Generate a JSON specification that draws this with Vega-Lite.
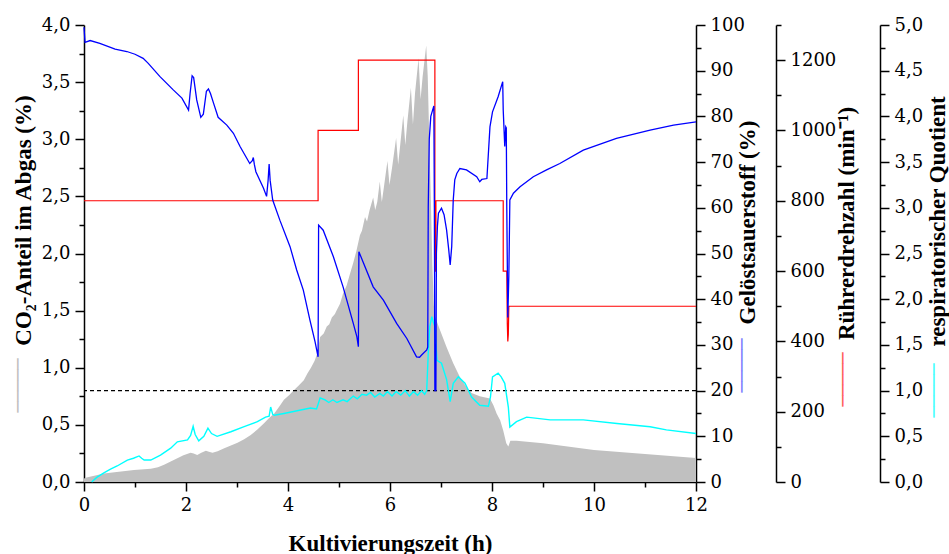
{
 "$schema": "https://vega.github.io/schema/vega-lite/v6.json",
 "width": 612, "height": 457,
 "autosize": {"type": "none"},
 "padding": {"left": 84, "top": 25, "right": 253, "bottom": 72},
 "background": "white",
 "config": {
  "view": {"stroke": null},
  "font": "Liberation Serif",
  "axis": {"labelFont": "DejaVu Serif", "labelFontSize": 18, "labelColor": "black", "titleFont": "Liberation Serif", "titleFontSize": 23, "titleFontWeight": "bold", "titleColor": "black", "domainColor": "black", "domainWidth": 1.5, "tickColor": "black", "tickWidth": 1.5, "grid": false, "labelOverlap": false, "labelFlush": false, "labelBound": false, "labelPadding": 5}
 },
 "datasets": {
  "co2": [
   {"t":0,"co2":0.03},{"t":0.05,"co2":0.04},{"t":0.2,"co2":0.055},{"t":0.39,"co2":0.075},{"t":0.6,"co2":0.085},{"t":0.98,"co2":0.105},{"t":1.31,"co2":0.117},{"t":1.45,"co2":0.13},{"t":1.57,"co2":0.15},{"t":1.7,"co2":0.18},{"t":1.83,"co2":0.207},{"t":1.95,"co2":0.235},{"t":2.09,"co2":0.257},{"t":2.15,"co2":0.25},{"t":2.22,"co2":0.236},{"t":2.3,"co2":0.255},{"t":2.39,"co2":0.274},{"t":2.45,"co2":0.265},{"t":2.52,"co2":0.257},{"t":2.62,"co2":0.27},{"t":2.75,"co2":0.295},{"t":2.88,"co2":0.32},{"t":3.01,"co2":0.344},{"t":3.14,"co2":0.375},{"t":3.27,"co2":0.411},{"t":3.4,"co2":0.46},{"t":3.53,"co2":0.514},{"t":3.63,"co2":0.56},{"t":3.73,"co2":0.6},{"t":3.83,"co2":0.66},{"t":3.92,"co2":0.72},{"t":4.02,"co2":0.76},{"t":4.12,"co2":0.805},{"t":4.22,"co2":0.85},{"t":4.31,"co2":0.89},{"t":4.38,"co2":0.95},{"t":4.45,"co2":1.0},{"t":4.52,"co2":1.06},{"t":4.57,"co2":1.12},{"t":4.63,"co2":1.27},{"t":4.7,"co2":1.3},{"t":4.76,"co2":1.36},{"t":4.81,"co2":1.38},{"t":4.86,"co2":1.44},{"t":4.92,"co2":1.47},{"t":4.95,"co2":1.5},{"t":5.02,"co2":1.56},{"t":5.08,"co2":1.65},{"t":5.15,"co2":1.72},{"t":5.22,"co2":1.83},{"t":5.28,"co2":1.92},{"t":5.34,"co2":2.02},{"t":5.41,"co2":2.16},{"t":5.45,"co2":2.2},{"t":5.51,"co2":2.32},{"t":5.55,"co2":2.28},{"t":5.6,"co2":2.38},{"t":5.67,"co2":2.49},{"t":5.71,"co2":2.38},{"t":5.75,"co2":2.45},{"t":5.8,"co2":2.63},{"t":5.84,"co2":2.45},{"t":5.88,"co2":2.58},{"t":5.95,"co2":2.81},{"t":5.99,"co2":2.6},{"t":6.04,"co2":2.75},{"t":6.12,"co2":3.01},{"t":6.16,"co2":2.78},{"t":6.2,"co2":2.95},{"t":6.26,"co2":3.21},{"t":6.3,"co2":2.95},{"t":6.34,"co2":3.15},{"t":6.41,"co2":3.45},{"t":6.45,"co2":3.13},{"t":6.49,"co2":3.4},{"t":6.56,"co2":3.71},{"t":6.6,"co2":3.35},{"t":6.64,"co2":3.55},{"t":6.71,"co2":3.82},{"t":6.74,"co2":3.55},{"t":6.77,"co2":3.0},{"t":6.8,"co2":2.5},{"t":6.83,"co2":1.9},{"t":6.86,"co2":1.55},{"t":6.88,"co2":1.45},{"t":6.98,"co2":1.33},{"t":7.11,"co2":1.18},{"t":7.24,"co2":1.04},{"t":7.37,"co2":0.92},{"t":7.5,"co2":0.83},{"t":7.6,"co2":0.78},{"t":7.76,"co2":0.75},{"t":7.96,"co2":0.73},{"t":8.03,"co2":0.67},{"t":8.09,"co2":0.6},{"t":8.16,"co2":0.54},{"t":8.22,"co2":0.45},{"t":8.28,"co2":0.34},{"t":8.32,"co2":0.31},{"t":8.36,"co2":0.36},{"t":8.48,"co2":0.36},{"t":9.0,"co2":0.34},{"t":10.0,"co2":0.28},{"t":11.0,"co2":0.245},{"t":12.0,"co2":0.21}
  ],
  "do": [
   {"t":0,"do":99.5},{"t":0.02,"do":96.2},{"t":0.12,"do":96.6},{"t":0.31,"do":96.0},{"t":0.61,"do":94.7},{"t":0.84,"do":94.2},{"t":1.0,"do":93.6},{"t":1.16,"do":92.7},{"t":1.26,"do":91.6},{"t":1.49,"do":88.7},{"t":1.75,"do":85.8},{"t":1.92,"do":84.0},{"t":2.05,"do":81.4},{"t":2.08,"do":85},{"t":2.12,"do":88.9},{"t":2.15,"do":88.5},{"t":2.21,"do":83.6},{"t":2.29,"do":79.8},{"t":2.34,"do":80.5},{"t":2.4,"do":85.5},{"t":2.44,"do":86.0},{"t":2.48,"do":85},{"t":2.54,"do":82.9},{"t":2.63,"do":79.8},{"t":2.8,"do":78.1},{"t":2.93,"do":76.3},{"t":3.06,"do":73.4},{"t":3.25,"do":69.7},{"t":3.3,"do":70.3},{"t":3.32,"do":71.0},{"t":3.34,"do":69.5},{"t":3.37,"do":67.9},{"t":3.52,"do":64.3},{"t":3.58,"do":62.5},{"t":3.61,"do":66},{"t":3.63,"do":69.6},{"t":3.65,"do":66},{"t":3.7,"do":61.7},{"t":3.84,"do":57.3},{"t":4.04,"do":51.5},{"t":4.17,"do":46.4},{"t":4.3,"do":42.0},{"t":4.43,"do":35.4},{"t":4.53,"do":30.7},{"t":4.59,"do":27.4},{"t":4.6,"do":56.2},{"t":4.69,"do":55.1},{"t":4.89,"do":49.3},{"t":5.08,"do":42.7},{"t":5.28,"do":34.7},{"t":5.35,"do":31.8},{"t":5.38,"do":29.6},{"t":5.39,"do":50.4},{"t":5.48,"do":47.9},{"t":5.67,"do":42.7},{"t":5.87,"do":39.8},{"t":6.13,"do":34.7},{"t":6.33,"do":31.4},{"t":6.52,"do":27.4},{"t":6.58,"do":27.3},{"t":6.62,"do":27.8},{"t":6.72,"do":28.9},{"t":6.74,"do":29.5},{"t":6.75,"do":60},{"t":6.77,"do":75},{"t":6.8,"do":80},{"t":6.86,"do":82.3},{"t":6.87,"do":60},{"t":6.88,"do":20.0},{"t":6.9,"do":20.0},{"t":6.91,"do":50},{"t":6.93,"do":56},{"t":6.95,"do":58.8},{"t":7.01,"do":59.9},{"t":7.06,"do":58.5},{"t":7.11,"do":55.1},{"t":7.15,"do":51},{"t":7.18,"do":47.5},{"t":7.21,"do":51.5},{"t":7.24,"do":61.7},{"t":7.27,"do":66.1},{"t":7.31,"do":67.5},{"t":7.37,"do":68.6},{"t":7.5,"do":68.3},{"t":7.7,"do":66.8},{"t":7.76,"do":65.7},{"t":7.8,"do":66.2},{"t":7.9,"do":66.4},{"t":7.96,"do":77.7},{"t":8.01,"do":81.0},{"t":8.12,"do":84.3},{"t":8.21,"do":87.6},{"t":8.22,"do":81.4},{"t":8.25,"do":73.4},{"t":8.27,"do":77.7},{"t":8.28,"do":77.5},{"t":8.29,"do":60},{"t":8.31,"do":36},{"t":8.33,"do":45},{"t":8.35,"do":61.7},{"t":8.42,"do":63.2},{"t":8.55,"do":64.6},{"t":8.81,"do":66.8},{"t":9.07,"do":68.3},{"t":9.33,"do":69.7},{"t":9.79,"do":72.6},{"t":10.44,"do":75.2},{"t":11.1,"do":77.0},{"t":11.56,"do":78.1},{"t":12.0,"do":78.8}
  ],
  "rpm": [
   {"t":0,"rpm":800},{"t":4.59,"rpm":800},{"t":4.59,"rpm":1000},{"t":5.38,"rpm":1000},{"t":5.38,"rpm":1200},{"t":6.88,"rpm":1200},{"t":6.88,"rpm":600},{"t":6.9,"rpm":600},{"t":6.9,"rpm":800},{"t":8.22,"rpm":800},{"t":8.22,"rpm":600},{"t":8.29,"rpm":600},{"t":8.3,"rpm":450},{"t":8.31,"rpm":400},{"t":8.32,"rpm":420},{"t":8.33,"rpm":500},{"t":12,"rpm":500}
  ],
  "rq": [
   {"t":0.15,"rq":0.0},{"t":0.25,"rq":0.05},{"t":0.39,"rq":0.1},{"t":0.52,"rq":0.14},{"t":0.65,"rq":0.175},{"t":0.85,"rq":0.24},{"t":0.97,"rq":0.26},{"t":1.08,"rq":0.285},{"t":1.13,"rq":0.26},{"t":1.18,"rq":0.24},{"t":1.31,"rq":0.24},{"t":1.5,"rq":0.295},{"t":1.7,"rq":0.37},{"t":1.83,"rq":0.44},{"t":2.03,"rq":0.46},{"t":2.09,"rq":0.51},{"t":2.14,"rq":0.61},{"t":2.18,"rq":0.52},{"t":2.25,"rq":0.45},{"t":2.35,"rq":0.5},{"t":2.43,"rq":0.59},{"t":2.5,"rq":0.53},{"t":2.61,"rq":0.5},{"t":2.88,"rq":0.55},{"t":3.14,"rq":0.605},{"t":3.4,"rq":0.66},{"t":3.56,"rq":0.71},{"t":3.63,"rq":0.72},{"t":3.66,"rq":0.82},{"t":3.7,"rq":0.74},{"t":3.73,"rq":0.73},{"t":3.92,"rq":0.75},{"t":4.18,"rq":0.78},{"t":4.44,"rq":0.81},{"t":4.56,"rq":0.8},{"t":4.63,"rq":0.92},{"t":4.72,"rq":0.9},{"t":4.8,"rq":0.87},{"t":4.88,"rq":0.9},{"t":4.96,"rq":0.87},{"t":5.08,"rq":0.9},{"t":5.16,"rq":0.88},{"t":5.28,"rq":0.94},{"t":5.36,"rq":0.91},{"t":5.45,"rq":0.96},{"t":5.54,"rq":0.95},{"t":5.62,"rq":0.98},{"t":5.7,"rq":0.93},{"t":5.8,"rq":0.97},{"t":5.87,"rq":0.94},{"t":5.95,"rq":0.99},{"t":6.04,"rq":0.94},{"t":6.12,"rq":0.99},{"t":6.21,"rq":0.95},{"t":6.3,"rq":1.0},{"t":6.38,"rq":0.94},{"t":6.46,"rq":0.99},{"t":6.54,"rq":0.95},{"t":6.62,"rq":1.0},{"t":6.68,"rq":0.96},{"t":6.72,"rq":1.0},{"t":6.75,"rq":1.41},{"t":6.78,"rq":1.7},{"t":6.82,"rq":1.81},{"t":6.85,"rq":1.75},{"t":6.88,"rq":1.7},{"t":6.92,"rq":1.33},{"t":7.01,"rq":1.3},{"t":7.11,"rq":1.12},{"t":7.18,"rq":0.88},{"t":7.24,"rq":1.08},{"t":7.34,"rq":1.15},{"t":7.47,"rq":1.08},{"t":7.6,"rq":0.93},{"t":7.76,"rq":0.84},{"t":7.93,"rq":0.83},{"t":7.97,"rq":0.93},{"t":8.01,"rq":1.15},{"t":8.12,"rq":1.19},{"t":8.18,"rq":1.15},{"t":8.25,"rq":1.08},{"t":8.32,"rq":0.82},{"t":8.35,"rq":0.6},{"t":8.48,"rq":0.66},{"t":8.68,"rq":0.71},{"t":9.14,"rq":0.68},{"t":9.79,"rq":0.68},{"t":10.45,"rq":0.64},{"t":11.1,"rq":0.605},{"t":11.42,"rq":0.57},{"t":12.0,"rq":0.53}
  ],
  "ref": [{"rq": 1.0}]
 },
 "layer": [
  {
   "data": {"name": "co2"},
   "mark": {"type": "area", "color": "#c0c0c0", "interpolate": "linear"},
   "encoding": {
    "x": {"field": "t", "type": "quantitative", "scale": {"domain": [0, 12], "nice": false},
     "axis": {"values": [0,1,2,3,4,5,6,7,8,9,10,11,12], "labelExpr": "datum.value % 2 == 0 ? format(datum.value, 'd') : ''",
      "tickSize": {"condition": {"test": "datum.value % 2 == 0", "value": 9}, "value": 5},
      "title": "Kultivierungszeit (h)", "titleY": 61, "titleBaseline": "middle"}},
    "y": {"field": "co2", "type": "quantitative", "scale": {"domain": [0, 4], "nice": false},
     "axis": {"orient": "left", "values": [0,0.25,0.5,0.75,1,1.25,1.5,1.75,2,2.25,2.5,2.75,3,3.25,3.5,3.75,4],
      "labelExpr": "abs(datum.value*2 - round(datum.value*2)) < 0.001 ? replace(format(datum.value, '.1f'), '.', ',') : ''",
      "tickSize": {"condition": {"test": "abs(datum.value*2 - round(datum.value*2)) < 0.001", "value": 9}, "value": 5},
      "title": "CO₂-Anteil im Abgas (%)", "titleX": -61, "titleY": 195, "titleAngle": 270, "titleAlign": "center", "titleBaseline": "middle"}}
   }
  },
  {
   "data": {"name": "ref"},
   "mark": {"type": "rule", "color": "black", "strokeDash": [4, 3], "strokeWidth": 1.2},
   "encoding": {
    "y": {"field": "rq", "type": "quantitative", "scale": {"domain": [0, 5], "nice": false},
     "axis": {"orient": "left", "domain": false, "ticks": false, "labels": false, "title": "─────", "titleFont": "DejaVu Sans Mono", "titleFontWeight": "normal", "titleFontSize": 18, "titleColor": "#c0c0c0", "titleX": -66, "titleY": 360, "titleAngle": 270, "titleAlign": "center", "titleBaseline": "middle"}}
   }
  },
  {
   "data": {"name": "rq"},
   "mark": {"type": "line", "color": "#00ffff", "strokeWidth": 1.4},
   "encoding": {
    "x": {"field": "t", "type": "quantitative", "scale": {"domain": [0, 12], "nice": false}},
    "y": {"field": "rq", "type": "quantitative", "scale": {"domain": [0, 5], "nice": false},
     "axis": {"orient": "right", "offset": 184, "values": [0,0.25,0.5,0.75,1,1.25,1.5,1.75,2,2.25,2.5,2.75,3,3.25,3.5,3.75,4,4.25,4.5,4.75,5],
      "labelExpr": "abs(datum.value*2 - round(datum.value*2)) < 0.001 ? replace(format(datum.value, '.1f'), '.', ',') : ''",
      "tickSize": {"condition": {"test": "abs(datum.value*2 - round(datum.value*2)) < 0.001", "value": 9}, "value": 5},
      "title": "respiratorischer Quotient", "titleX": 57, "titleY": 196, "titleAngle": 270, "titleAlign": "center", "titleBaseline": "middle"}},
    "order": {"value": null}
   }
  },
  {
   "data": {"name": "rpm"},
   "mark": {"type": "line", "color": "#ff0000", "strokeWidth": 1.2},
   "encoding": {
    "x": {"field": "t", "type": "quantitative", "scale": {"domain": [0, 12], "nice": false}},
    "y": {"field": "rpm", "type": "quantitative", "scale": {"domain": [0, 1300], "nice": false},
     "axis": {"orient": "right", "offset": 80, "values": [0,100,200,300,400,500,600,700,800,900,1000,1100,1200,1300],
      "labelExpr": "datum.value % 200 == 0 ? format(datum.value, 'd') : ''",
      "tickSize": {"condition": {"test": "datum.value % 200 == 0", "value": 9}, "value": 5},
      "title": "Rührerdrehzahl (min⁻¹)", "titleX": 70, "titleY": 198, "titleAngle": 270, "titleAlign": "center", "titleBaseline": "middle"}},
    "order": {"value": null}
   }
  },
  {
   "data": {"name": "do"},
   "mark": {"type": "line", "color": "#0000ff", "strokeWidth": 1.3},
   "encoding": {
    "x": {"field": "t", "type": "quantitative", "scale": {"domain": [0, 12], "nice": false}},
    "y": {"field": "do", "type": "quantitative", "scale": {"domain": [0, 100], "nice": false},
     "axis": {"orient": "right", "offset": 0, "values": [0,5,10,15,20,25,30,35,40,45,50,55,60,65,70,75,80,85,90,95,100],
      "labelExpr": "datum.value % 10 == 0 ? format(datum.value, 'd') : ''",
      "tickSize": {"condition": {"test": "datum.value % 10 == 0", "value": 9}, "value": 5},
      "title": "Gelöstsauerstoff (%)", "titleX": 51, "titleY": 197, "titleAngle": 270, "titleAlign": "center", "titleBaseline": "middle"}},
    "order": {"value": null}
   }
  },
  {
   "data": {"name": "ref"},
   "mark": {"type": "rule", "opacity": 0},
   "encoding": {
    "y": {"field": "rq", "type": "quantitative", "scale": {"domain": [0, 5], "nice": false},
     "axis": {"orient": "right", "offset": 0, "domain": false, "ticks": false, "labels": false, "title": "─────", "titleFont": "DejaVu Sans Mono", "titleFontWeight": "normal", "titleFontSize": 18, "titleColor": "#7a7aff", "titleX": 46, "titleY": 340, "titleAngle": 270, "titleAlign": "center", "titleBaseline": "middle"}}
   }
  },
  {
   "data": {"name": "ref"},
   "mark": {"type": "rule", "opacity": 0},
   "encoding": {
    "y": {"field": "rq", "type": "quantitative", "scale": {"domain": [0, 5], "nice": false},
     "axis": {"orient": "right", "offset": 80, "domain": false, "ticks": false, "labels": false, "title": "─────", "titleFont": "DejaVu Sans Mono", "titleFontWeight": "normal", "titleFontSize": 18, "titleColor": "#ff5a5a", "titleX": 67, "titleY": 354, "titleAngle": 270, "titleAlign": "center", "titleBaseline": "middle"}}
   }
  },
  {
   "data": {"name": "ref"},
   "mark": {"type": "rule", "opacity": 0},
   "encoding": {
    "y": {"field": "rq", "type": "quantitative", "scale": {"domain": [0, 5], "nice": false},
     "axis": {"orient": "right", "offset": 184, "domain": false, "ticks": false, "labels": false, "title": "─────", "titleFont": "DejaVu Sans Mono", "titleFontWeight": "normal", "titleFontSize": 18, "titleColor": "#40ffff", "titleX": 54, "titleY": 365, "titleAngle": 270, "titleAlign": "center", "titleBaseline": "middle"}}
   }
  }
 ],
 "resolve": {"scale": {"y": "independent"}, "axis": {"y": "independent"}}
}
